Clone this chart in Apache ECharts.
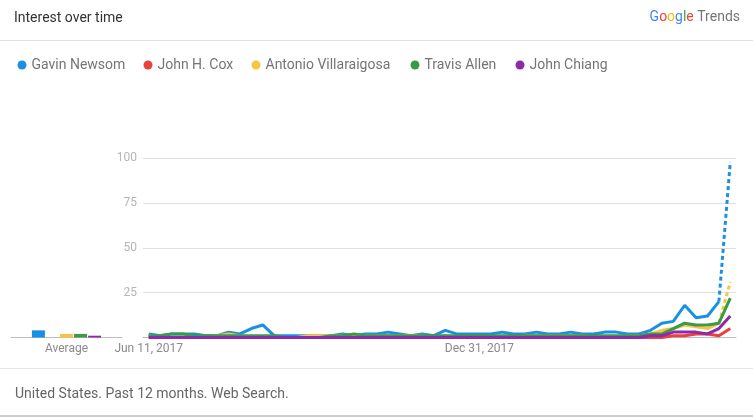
<!DOCTYPE html>
<html><head><meta charset="utf-8">
<script src="https://cdn.jsdelivr.net/npm/echarts@6/dist/echarts.min.js"></script>
<style>html,body{margin:0;padding:0;background:#fff;}#c{width:753px;height:417px;}</style>
</head><body><div id="c"></div><script>
// ---- data ----
const dates = [
  'Jun 11, 2017','Jun 18, 2017','Jun 25, 2017','Jul 2, 2017','Jul 9, 2017','Jul 16, 2017','Jul 23, 2017','Jul 30, 2017',
  'Aug 6, 2017','Aug 13, 2017','Aug 20, 2017','Aug 27, 2017','Sep 3, 2017','Sep 10, 2017','Sep 17, 2017','Sep 24, 2017',
  'Oct 1, 2017','Oct 8, 2017','Oct 15, 2017','Oct 22, 2017','Oct 29, 2017','Nov 5, 2017','Nov 12, 2017','Nov 19, 2017',
  'Nov 26, 2017','Dec 3, 2017','Dec 10, 2017','Dec 17, 2017','Dec 24, 2017','Dec 31, 2017','Jan 7, 2018','Jan 14, 2018',
  'Jan 21, 2018','Jan 28, 2018','Feb 4, 2018','Feb 11, 2018','Feb 18, 2018','Feb 25, 2018','Mar 4, 2018','Mar 11, 2018',
  'Mar 18, 2018','Mar 25, 2018','Apr 1, 2018','Apr 8, 2018','Apr 15, 2018','Apr 22, 2018','Apr 29, 2018','May 6, 2018',
  'May 13, 2018','May 20, 2018','May 27, 2018','Jun 3, 2018'
];
const tickLabels = ['Jun 11, 2017', 'Dec 31, 2017'];
const seriesNames = ['Gavin Newsom', 'John H. Cox', 'Antonio Villaraigosa', 'Travis Allen', 'John Chiang'];
const gavinNewsom = [2,1,2,2,2,1,1,3,2,5, 7,1,1,1,1,1,1,2,1,2, 2,3,2,1,2,1,4,2,2,2, 2,3,2,2,3,2,2,3,2,2, 3,3,2,2,4,8,9,18,11,12, 20,98];
const johnHCox = [0,0,0,0,0,0,0,0,0,0, 0,0,0,0,0,0,0,0,0,0, 0,0,0,0,0,0,0,0,0,0, 0,0,0,0,0,0,0,0,0,0, 0,0,0,0,0,0,1,1,2,2, 1,5];
const antonioVillaraigosa = [1,0,0,0,0,0,1,2,1,0, 0,0,0,0,1,1,1,1,1,1, 1,1,1,1,1,0,1,0,0,0, 0,0,0,1,1,1,1,1,1,0, 0,0,1,1,2,4,5,7,6,5, 8,31];
const travisAllen = [1,1,2,2,1,1,1,1,1,1, 1,1,0,0,0,0,1,1,2,1, 1,1,1,1,1,1,1,1,1,1, 1,1,1,1,1,1,1,1,1,1, 1,1,1,1,2,2,5,8,7,7, 8,22];
const johnChiang = [0,0,0,0,0,0,0,0,0,0, 0,0,0,0,0,0,0,0,0,0, 0,0,0,0,0,0,0,0,0,0, 0,0,0,0,0,0,0,0,0,0, 0,0,0,0,1,1,3,3,3,2, 5,12];
const averages = [4, 0, 2, 2, 1];
const averageCategory = ['Average'];
const partialIndex = 50; // last full week index; the final segment is partial (dotted)

// ---- chart ----
const colors = ['#1a90e4', '#ea4040', '#f9c444', '#3a9a45', '#8e2aa8'];
const allSeries = [gavinNewsom, johnHCox, antonioVillaraigosa, travisAllen, johnChiang];
const dottedEnd = [true, false, true, false, false];
const FONT = 'Roboto, "Noto Sans", sans-serif';

const series = [];
allSeries.forEach((vals, i) => {
  if (dottedEnd[i]) {
    series.push({
      name: seriesNames[i], type: 'line', xAxisIndex: 0, yAxisIndex: 0, symbol: 'none',
      data: vals.map((v, k) => k > partialIndex ? '-' : v),
      lineStyle: { width: 3, color: colors[i] }, itemStyle: { color: colors[i] }
    });
    series.push({
      name: seriesNames[i], type: 'line', xAxisIndex: 0, yAxisIndex: 0, symbol: 'none',
      data: vals.map((v, k) => k < partialIndex ? '-' : v),
      lineStyle: { width: 3, color: colors[i], type: [4, 3] }, itemStyle: { color: colors[i] }
    });
  } else {
    series.push({
      name: seriesNames[i], type: 'line', xAxisIndex: 0, yAxisIndex: 0, symbol: 'none',
      data: vals,
      lineStyle: { width: 3, color: colors[i] }, itemStyle: { color: colors[i] }
    });
  }
});
averages.forEach((v, i) => {
  series.push({
    name: seriesNames[i], type: 'bar', xAxisIndex: 1, yAxisIndex: 1,
    data: [v], barWidth: 13, barGap: '8%', itemStyle: { color: colors[i] }
  });
});

const legendLefts = [12.5, 138.5, 246.5, 405.5, 510.5];
const legends = seriesNames.map((n, i) => ({
  data: [{ name: n, icon: 'circle' }],
  left: legendLefts[i], top: 53, itemWidth: 9, itemHeight: 9, itemGap: 0,
  selectedMode: false,
  textStyle: { fontSize: 14, color: '#757575', fontFamily: FONT }
}));

const option = {
  animation: false,
  backgroundColor: '#fff',
  title: {
    text: 'Interest over time', left: 9, top: 6,
    textStyle: { fontSize: 14, fontWeight: 'normal', color: '#333', fontFamily: FONT }
  },
  legend: legends,
  grid: [
    { left: 143, right: 17, top: 158.3, bottom: 79.5 },
    { left: 11, width: 111, top: 158.3, bottom: 79.5 }
  ],
  xAxis: [
    {
      type: 'category', gridIndex: 0, data: dates, boundaryGap: true,
      axisLine: { lineStyle: { color: '#bdbdbd' } }, axisTick: { show: false },
      axisLabel: {
        interval: (idx, val) => tickLabels.indexOf(val) >= 0,
        color: '#8a8a8a', fontSize: 12, margin: 5, fontFamily: FONT
      },
      splitLine: { show: false }
    },
    {
      type: 'category', gridIndex: 1, data: averageCategory,
      axisLine: { lineStyle: { color: '#bdbdbd' } }, axisTick: { show: false },
      axisLabel: { color: '#8a8a8a', fontSize: 12, margin: 5, fontFamily: FONT }
    }
  ],
  yAxis: [
    {
      type: 'value', gridIndex: 0, min: 0, max: 100, interval: 25,
      axisLine: { show: false }, axisTick: { show: false },
      axisLabel: { color: '#b5b5b5', fontSize: 12, margin: 6, fontFamily: FONT, formatter: v => v === 0 ? '' : v },
      splitLine: { lineStyle: { color: '#e0e0e0' } }
    },
    { type: 'value', gridIndex: 1, min: 0, max: 100, show: false }
  ],
  graphic: [
    { type: 'line', shape: { x1: 0, y1: 40.5, x2: 753, y2: 40.5 }, style: { stroke: '#e0e0e0', lineWidth: 1 } },
    {
      type: 'text', right: 13, top: 10,
      style: {
        text: '{b|G}{r|o}{y|o}{b|g}{g|l}{r|e} {t|Trends}',
        font: '14px Roboto',
        rich: {
          b: { fill: '#4285F4', fontSize: 14, fontFamily: FONT },
          r: { fill: '#EA4335', fontSize: 14, fontFamily: FONT },
          y: { fill: '#FBBC05', fontSize: 14, fontFamily: FONT },
          g: { fill: '#34A853', fontSize: 14, fontFamily: FONT },
          t: { fill: '#757575', fontSize: 14, fontFamily: FONT }
        }
      }
    },
    { type: 'line', shape: { x1: 0, y1: 368.5, x2: 753, y2: 368.5 }, style: { stroke: '#e6e6e6', lineWidth: 1 } },
    { type: 'line', shape: { x1: 0, y1: 416, x2: 753, y2: 416 }, style: { stroke: '#bdbdbd', lineWidth: 1.5 } },
    {
      type: 'text', left: 15, top: 387,
      style: { text: 'United States. Past 12 months. Web Search.', fontSize: 14, fontFamily: FONT, fill: '#666' }
    }
  ],
  series: series
};
const chart = echarts.init(document.getElementById('c'));
chart.setOption(option);
</script></body></html>
